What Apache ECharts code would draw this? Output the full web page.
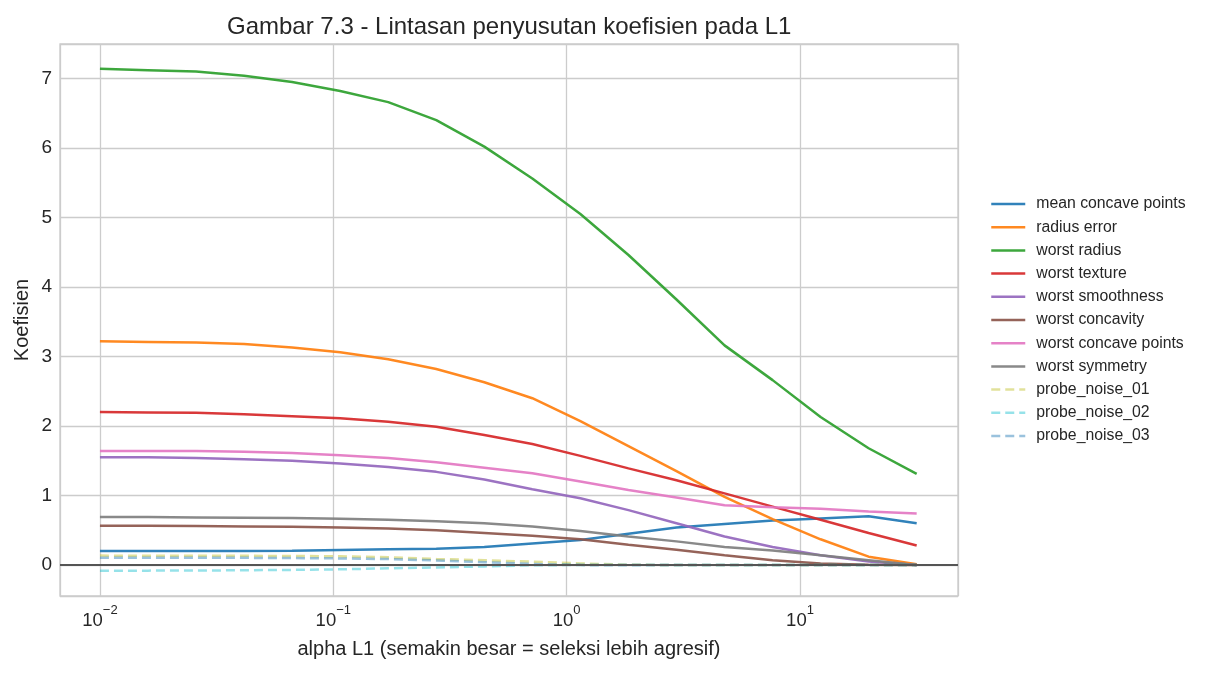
<!DOCTYPE html>
<html>
<head>
<meta charset="utf-8">
<script src="https://cdn.jsdelivr.net/npm/echarts@6/dist/echarts.min.js"></script>
<style>
  html, body { margin: 0; padding: 0; background: #fff; }
  #chart { width: 1207px; height: 674px; }
</style>
</head>
<body>
<div id="chart"></div>
<script>
// alpha grid (log spaced, 1e-2 .. 10^1.5)
var alphas = [0.01, 0.01607, 0.02581, 0.04146, 0.06659, 0.1070, 0.1719, 0.2762, 0.4437,
  0.7126, 1.145, 1.840, 2.955, 4.749, 7.630, 12.25, 19.68, 31.62];

var meanConcavePoints = [0.20, 0.20, 0.20, 0.20, 0.205, 0.215, 0.225, 0.235, 0.26, 0.31, 0.36, 0.45, 0.54, 0.59, 0.64, 0.67, 0.70, 0.60];
var radiusError = [3.22, 3.21, 3.20, 3.18, 3.13, 3.06, 2.96, 2.82, 2.63, 2.40, 2.07, 1.71, 1.35, 0.98, 0.66, 0.37, 0.12, 0.01];
var worstRadius = [7.14, 7.12, 7.10, 7.04, 6.95, 6.82, 6.66, 6.40, 6.02, 5.56, 5.05, 4.46, 3.82, 3.16, 2.66, 2.13, 1.68, 1.31];
var worstTexture = [2.20, 2.195, 2.19, 2.17, 2.14, 2.11, 2.06, 1.99, 1.87, 1.74, 1.57, 1.39, 1.22, 1.03, 0.84, 0.65, 0.46, 0.28];
var worstSmoothness = [1.55, 1.55, 1.54, 1.52, 1.50, 1.46, 1.41, 1.34, 1.23, 1.09, 0.96, 0.79, 0.60, 0.41, 0.26, 0.14, 0.05, 0.0];
var worstConcavity = [0.565, 0.565, 0.56, 0.555, 0.55, 0.54, 0.525, 0.50, 0.46, 0.42, 0.37, 0.29, 0.22, 0.14, 0.07, 0.02, 0.005, 0.0];
var worstConcavePoints = [1.64, 1.64, 1.64, 1.63, 1.61, 1.58, 1.54, 1.48, 1.40, 1.32, 1.20, 1.08, 0.97, 0.86, 0.83, 0.81, 0.77, 0.74];
var worstSymmetry = [0.69, 0.69, 0.685, 0.68, 0.675, 0.665, 0.65, 0.63, 0.60, 0.555, 0.49, 0.41, 0.34, 0.26, 0.21, 0.14, 0.07, 0.0];
var probeNoise01 = [0.135, 0.134, 0.133, 0.132, 0.13, 0.125, 0.112, 0.088, 0.068, 0.048, 0.022, 0.004, 0, 0, 0, 0, 0, 0];
var probeNoise02 = [-0.082, -0.081, -0.079, -0.076, -0.07, -0.062, -0.048, -0.035, -0.02, -0.004, 0, 0, 0, 0, 0, 0, 0, 0];
var probeNoise03 = [0.105, 0.105, 0.104, 0.103, 0.10, 0.095, 0.085, 0.065, 0.04, 0.015, 0.002, 0, 0, 0, 0, 0, 0, 0];

var features = [
  { name: 'mean concave points', values: meanConcavePoints, color: '#1f77b4' },
  { name: 'radius error', values: radiusError, color: '#ff7f0e' },
  { name: 'worst radius', values: worstRadius, color: '#2ca02c' },
  { name: 'worst texture', values: worstTexture, color: '#d62728' },
  { name: 'worst smoothness', values: worstSmoothness, color: '#9467bd' },
  { name: 'worst concavity', values: worstConcavity, color: '#8c564b' },
  { name: 'worst concave points', values: worstConcavePoints, color: '#e377c2' },
  { name: 'worst symmetry', values: worstSymmetry, color: '#7f7f7f' },
  { name: 'probe_noise_01', values: probeNoise01, color: '#bcbd22', noise: true },
  { name: 'probe_noise_02', values: probeNoise02, color: '#17becf', noise: true },
  { name: 'probe_noise_03', values: probeNoise03, color: '#1f77b4', noise: true }
];

var font = '"Liberation Sans", Arial, sans-serif';
var textColor = '#262626';

var chart = echarts.init(document.getElementById('chart'));

var series = features.map(function (f, i) {
  var s = {
    name: f.name,
    type: 'line',
    showSymbol: false,
    symbol: 'none',
    animation: false,
    data: alphas.map(function (a, k) { return [a, f.values[k]]; }),
    lineStyle: {
      color: f.color,
      width: 2.5,
      opacity: f.noise ? 0.45 : 0.92,
      type: f.noise ? [9, 5] : 'solid'
    },
    itemStyle: { color: f.color, opacity: f.noise ? 0.45 : 0.92 },
    z: 2
  };
  if (i === 0) {
    s.markLine = {
      silent: true,
      symbol: 'none',
      animation: false,
      label: { show: false },
      lineStyle: { color: '#555555', width: 1.8, type: 'solid', opacity: 1 },
      data: [{ yAxis: 0 }]
    };
  }
  return s;
});

chart.setOption({
  backgroundColor: '#ffffff',
  animation: false,
  textStyle: { fontFamily: font, color: textColor },
  title: {
    text: 'Gambar 7.3 - Lintasan penyusutan koefisien pada L1',
    left: 222,
    top: 10,
    textStyle: { fontFamily: font, fontSize: 24, fontWeight: 'normal', color: textColor }
  },
  grid: {
    left: 60, top: 44, width: 898, height: 552,
    show: true, borderColor: '#cccccc', borderWidth: 1.3, containLabel: false
  },
  legend: {
    orient: 'vertical',
    left: 990,
    top: 196,
    padding: 0,
    itemWidth: 34,
    itemHeight: 12,
    itemGap: 7.2,
    itemStyle: { opacity: 0 },
    lineStyle: { width: 2.5 },
    textStyle: { fontFamily: font, fontSize: 15.8, color: textColor, lineHeight: 16, padding: [0, 0, 0, 6] },
    data: features.map(function (f) { return f.name; })
  },
  xAxis: {
    type: 'log',
    logBase: 10,
    min: 0.006742,
    max: 47.54,
    name: 'alpha L1 (semakin besar = seleksi lebih agresif)',
    nameLocation: 'middle',
    nameGap: 43,
    nameMoveOverlap: false,
    nameTextStyle: { fontFamily: font, fontSize: 20, color: textColor },
    axisLine: { show: false, onZero: false },
    axisTick: { show: false },
    minorTick: { show: false },
    splitLine: { show: true, lineStyle: { color: '#cccccc', width: 1.3 } },
    axisLabel: {
      margin: 8,
      formatter: function (v) {
        var e = Math.log10(v);
        if (Math.abs(e - Math.round(e)) > 1e-6) return '';
        e = Math.round(e);
        return '{b|10}{s|' + (e < 0 ? '\u2212' + (-e) : e) + '}';
      },
      rich: {
        b: { fontFamily: font, fontSize: 18.5, color: textColor, lineHeight: 26, verticalAlign: 'bottom' },
        s: { fontFamily: font, fontSize: 13, color: textColor, lineHeight: 14, verticalAlign: 'top' }
      }
    }
  },
  yAxis: {
    type: 'value',
    min: -0.446,
    max: 7.496,
    splitNumber: 8,
    name: 'Koefisien',
    nameLocation: 'middle',
    nameGap: 28,
    nameMoveOverlap: false,
    nameRotate: 90,
    nameTextStyle: { fontFamily: font, fontSize: 20, color: textColor },
    axisLine: { show: false },
    axisTick: { show: false },
    splitLine: { show: true, lineStyle: { color: '#cccccc', width: 1.3 } },
    axisLabel: {
      margin: 8,
      fontFamily: font,
      fontSize: 19,
      color: textColor,
      formatter: function (v) {
        return Math.abs(v - Math.round(v)) < 1e-9 ? String(Math.round(v)) : '';
      }
    }
  },
  series: series
});
</script>
</body>
</html>
